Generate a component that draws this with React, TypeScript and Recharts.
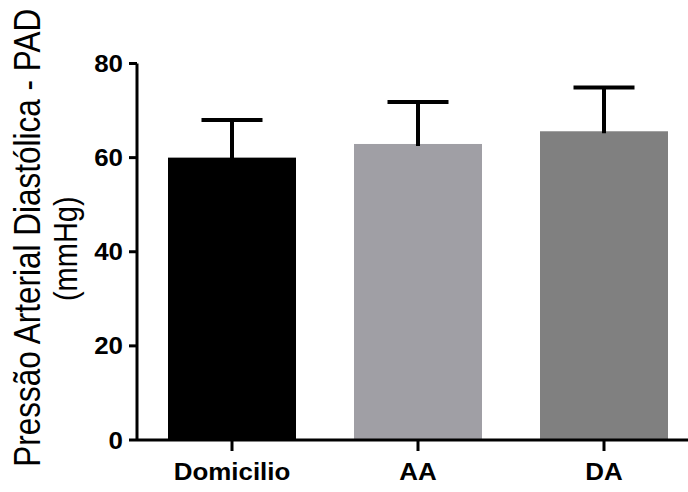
import React from 'react';
import { BarChart, Bar, XAxis, YAxis, Cell } from 'recharts';

const categories = ['Domicilio', 'AA', 'DA'];
const means = [60, 62.9, 65.6];
const errors = [8, 8.9, 9.3];
const colors = ['#000000', '#a09fa5', '#808080'];
const yTicks = [0, 20, 40, 60, 80];
const titleLine1 = 'Pressão Arterial Diastólica - PAD';
const titleLine2 = '(mmHg)';

const data = categories.map((c, i) => ({ name: c, value: means[i], err: errors[i] }));

const FONT = '"Liberation Sans", Arial, Helvetica, sans-serif';

const YTick = (props: any) => {
  const { x, y, payload } = props;
  return (
    <g transform={`translate(${x},${y})`}>
      <text transform="scale(1.08,1)" textAnchor="end" dy="0.355em" fontSize={24} fontWeight="bold" fill="#000" fontFamily={FONT}>
        {payload.value}
      </text>
    </g>
  );
};

const XTick = (props: any) => {
  const { x, y, payload } = props;
  return (
    <g transform={`translate(${x},${y})`}>
      <text transform="scale(1.08,1)" textAnchor="middle" dy="0.71em" fontSize={24} fontWeight="bold" fill="#000" fontFamily={FONT}>
        {payload.value}
      </text>
    </g>
  );
};

const YLabel = (props: any) => {
  const vb = props.viewBox || { x: 0, y: 0, width: 0, height: 0 };
  const cy = vb.y + vb.height / 2;
  const y1 = cy - 14;
  const y2 = cy - 3;
  return (
    <g>
      <g transform={`translate(40, ${y1}) scale(1.15,1) rotate(-90)`}>
        <text x={0} y={0} textAnchor="middle" fontSize={31.5} fill="#000" fontFamily={FONT}>
          {titleLine1}
        </text>
      </g>
      <g transform={`translate(77, ${y2}) scale(1.15,1) rotate(-90)`}>
        <text x={0} y={0} textAnchor="middle" fontSize={29} fill="#000" fontFamily={FONT}>
          {titleLine2}
        </text>
      </g>
    </g>
  );
};

const BarWithError = (props: any) => {
  const { x, y, width, height, index, payload } = props;
  const fill = colors[index] ?? props.fill;
  const ppu = payload.value ? height / payload.value : 0;
  const top = y - payload.err * ppu;
  const cx = x + width / 2;
  return (
    <g>
      <rect x={x} y={y} width={width} height={height} fill={fill} />
      <line x1={cx} x2={cx} y1={y + 2} y2={top} stroke="#000" strokeWidth={4} />
      <line x1={cx - 30.5} x2={cx + 30.5} y1={top} y2={top} stroke="#000" strokeWidth={4} />
    </g>
  );
};

export default function App() {
  return (
    <div style={{ position: 'absolute', left: 0, top: 0, width: 688, height: 492, overflow: 'hidden', background: '#fff' }}>
      <BarChart
        width={697}
        height={492}
        data={data}
        margin={{ top: 63.5, right: 0, bottom: 0, left: 0 }}
        barCategoryGap={29}
      >
        <XAxis
          dataKey="name"
          height={52}
          padding={{ left: 2, right: 0 }}
          interval={0}
          axisLine={{ stroke: '#000', strokeWidth: 3 }}
          tickLine={{ stroke: '#000', strokeWidth: 3 }}
          tickSize={11}
          tickMargin={12}
          tick={XTick}
        />
        <YAxis
          width={137}
          domain={[0, 80]}
          ticks={yTicks}
          interval={0}
          allowDataOverflow
          axisLine={{ stroke: '#000', strokeWidth: 3 }}
          tickLine={{ stroke: '#000', strokeWidth: 3 }}
          tickSize={8}
          tickMargin={6}
          tick={YTick}
          label={{ content: YLabel }}
        />
        <Bar dataKey="value" isAnimationActive={false} shape={BarWithError}>
          {data.map((d, i) => (
            <Cell key={d.name} fill={colors[i]} />
          ))}
        </Bar>
      </BarChart>
    </div>
  );
}
